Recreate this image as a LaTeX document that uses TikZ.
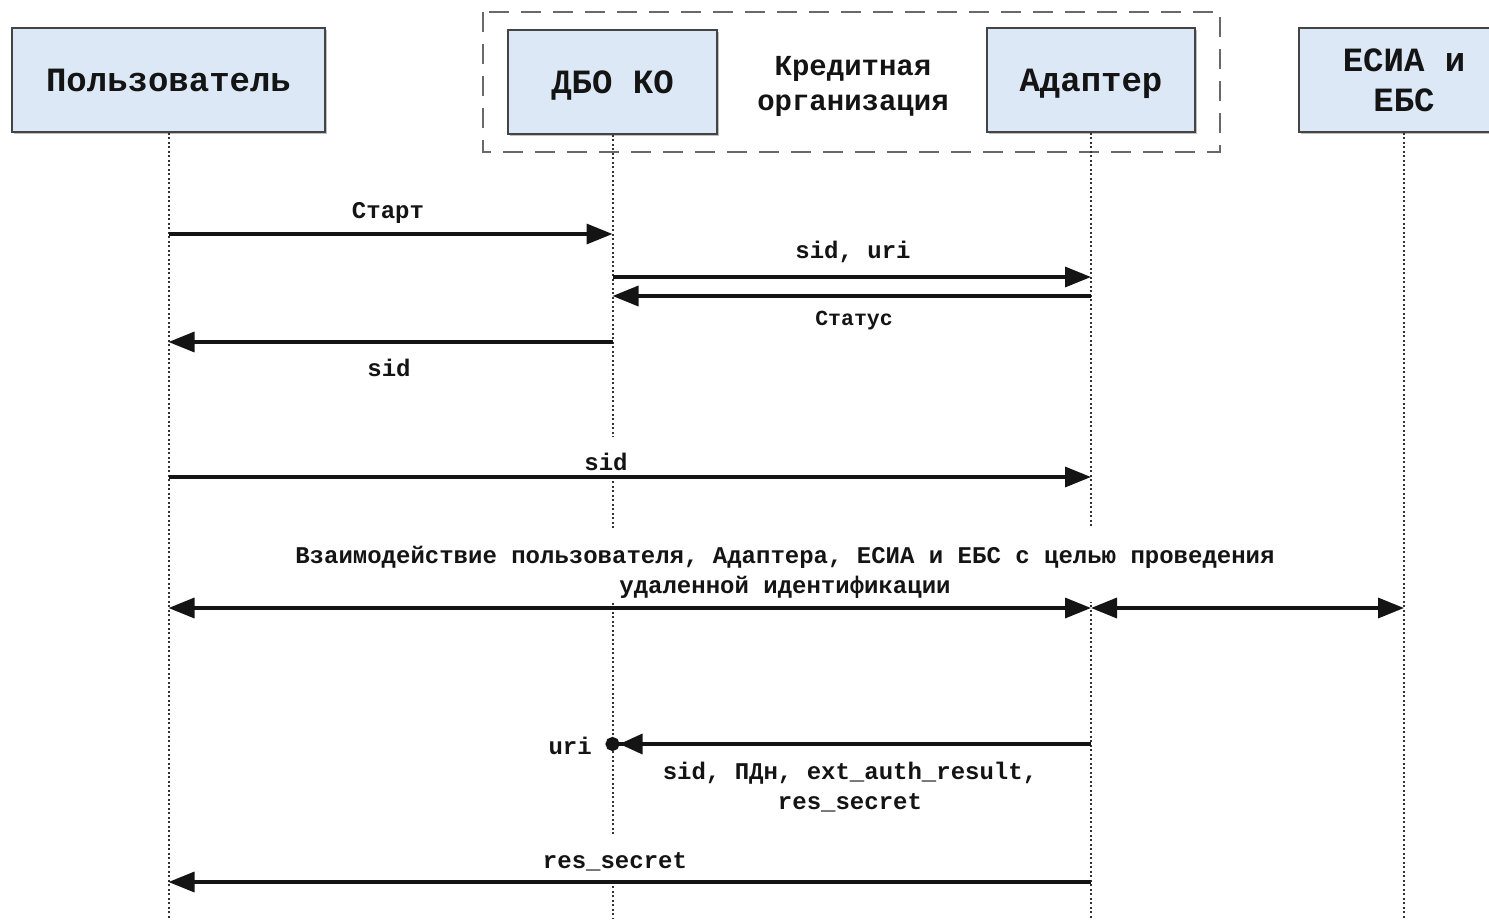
\documentclass[tikz,border=0pt]{standalone}
\usepackage{fontspec}
\newfontfamily\cour{Liberation Mono}
\usetikzlibrary{arrows.meta,shadows}
\definecolor{boxfill}{RGB}{220,232,245}
\definecolor{boxline}{RGB}{68,68,68}
\definecolor{ink}{RGB}{20,20,20}
\tikzset{
  actor/.style={draw=boxline, line width=1.5pt, fill=boxfill, minimum height=104pt,
    align=center, text=ink, font=\cour\bfseries\fontsize{34}{40}\selectfont,
    drop shadow={shadow xshift=2pt, shadow yshift=-2pt, opacity=0.25, fill=black}},
  life/.style={line width=2pt, draw=black!80, dash pattern=on 2pt off 2.5pt},
  msg/.style={line width=3.4pt, draw=ink, -{Triangle[length=26pt,width=20pt]}},
  dmsg/.style={line width=3.4pt, draw=ink, {Triangle[length=26pt,width=20pt]}-{Triangle[length=26pt,width=20pt]}},
  lbl/.style={text=ink, font=\cour\bfseries\fontsize{24}{30}\selectfont, align=center, inner sep=0pt},
  cover/.style={fill=white, inner sep=0pt},
  group/.style={draw=boxline!80, line width=2pt, dash pattern=on 20pt off 12pt}
}
\begin{document}
\begin{tikzpicture}[x=1pt, y=-1pt]
\useasboundingbox[fill=white] (0,0) rectangle (1489,919);
\clip (0,0) rectangle (1489,919);

% bank group frame
\draw[group] (483,12) rectangle (1220,152);
\node[lbl, font=\cour\bfseries\fontsize{29}{35}\selectfont] (bank) at (853,86) {Кредитная\\организация};

% participants
\node[actor, minimum width=313pt] (user) at (168.5,80) {Пользователь};
\node[actor, minimum width=209pt, text depth=0pt] (dbo) at (612.5,82) {ДБО КО};
\node[actor, minimum width=208pt, text depth=0pt] (adp) at (1091,80) {Адаптер};
\node[actor, minimum width=210pt] (esia) at (1404,80) {ЕСИА и\\ЕБС};

% lifelines
\coordinate (userEnd) at (user.south |- 0,919);
\coordinate (dboEnd) at (dbo.south |- 0,919);
\coordinate (adpEnd) at (adp.south |- 0,919);
\coordinate (esiaEnd) at (esia.south |- 0,919);
\draw[life] (user.south) -- (userEnd);
\draw[life] (dbo.south) -- (dboEnd);
\draw[life] (adp.south) -- (adpEnd);
\draw[life] (esia.south) -- (esiaEnd);

% message labels (white backing hides the lifelines behind them)
\node[lbl] (lStart) at (388,213) {Старт};
\node[lbl] (lSidUri) at (853,252) {sid, uri};
\node[lbl, font=\cour\bfseries\fontsize{21.5}{26}\selectfont] (lStatus) at (854,321) {Статус};
\node[lbl] (lSid1) at (389,368) {sid};
\node[cover, minimum width=676pt, minimum height=40pt] (cSid2) at (606,457) {};
\node[lbl] (lSid2) at (606,462) {sid};
\node[cover, minimum width=1032pt, minimum height=74pt] (cIdent) at (784,565) {};
\node[lbl] (lIdent) at (785,572) {Взаимодействие пользователя, Адаптера, ЕСИА и ЕБС с целью проведения\\удаленной идентификации};
\node[lbl, anchor=east] (lUri) at (592,746) {uri};
\node[cover, minimum width=467pt, minimum height=66pt] (cRes) at (849,787) {};
\node[lbl] (lRes) at (850,787) {sid, ПДн, ext\_auth\_result,\\res\_secret};
\node[cover, minimum width=670pt, minimum height=48pt] (cSecret) at (615,858) {};
\node[lbl] (lSecret) at (615,862) {res\_secret};

% messages
\draw[msg] (user.south |- 0,234) -- (dbo.south |- 0,234);
\draw[msg] (dbo.south |- 0,277) -- (adp.south |- 0,277);
\draw[msg] (adp.south |- 0,296) -- (dbo.south |- 0,296);
\draw[msg] (dbo.south |- 0,342) -- (user.south |- 0,342);
\draw[msg] (user.south |- 0,477) -- (adp.south |- 0,477);
\draw[dmsg] (user.south |- 0,608) -- (adp.south |- 0,608);
\draw[dmsg] (adp.south |- 0,608) -- (esia.south |- 0,608);
\draw[line width=3.4pt, draw=ink, -{Triangle[length=23pt,width=20pt]Circle[length=14pt,width=14pt]}, shorten >=-7pt]
  (adp.south |- 0,744) -- (dbo.south |- 0,744);
\draw[msg] (adp.south |- 0,882) -- (user.south |- 0,882);
\end{tikzpicture}
\end{document}
